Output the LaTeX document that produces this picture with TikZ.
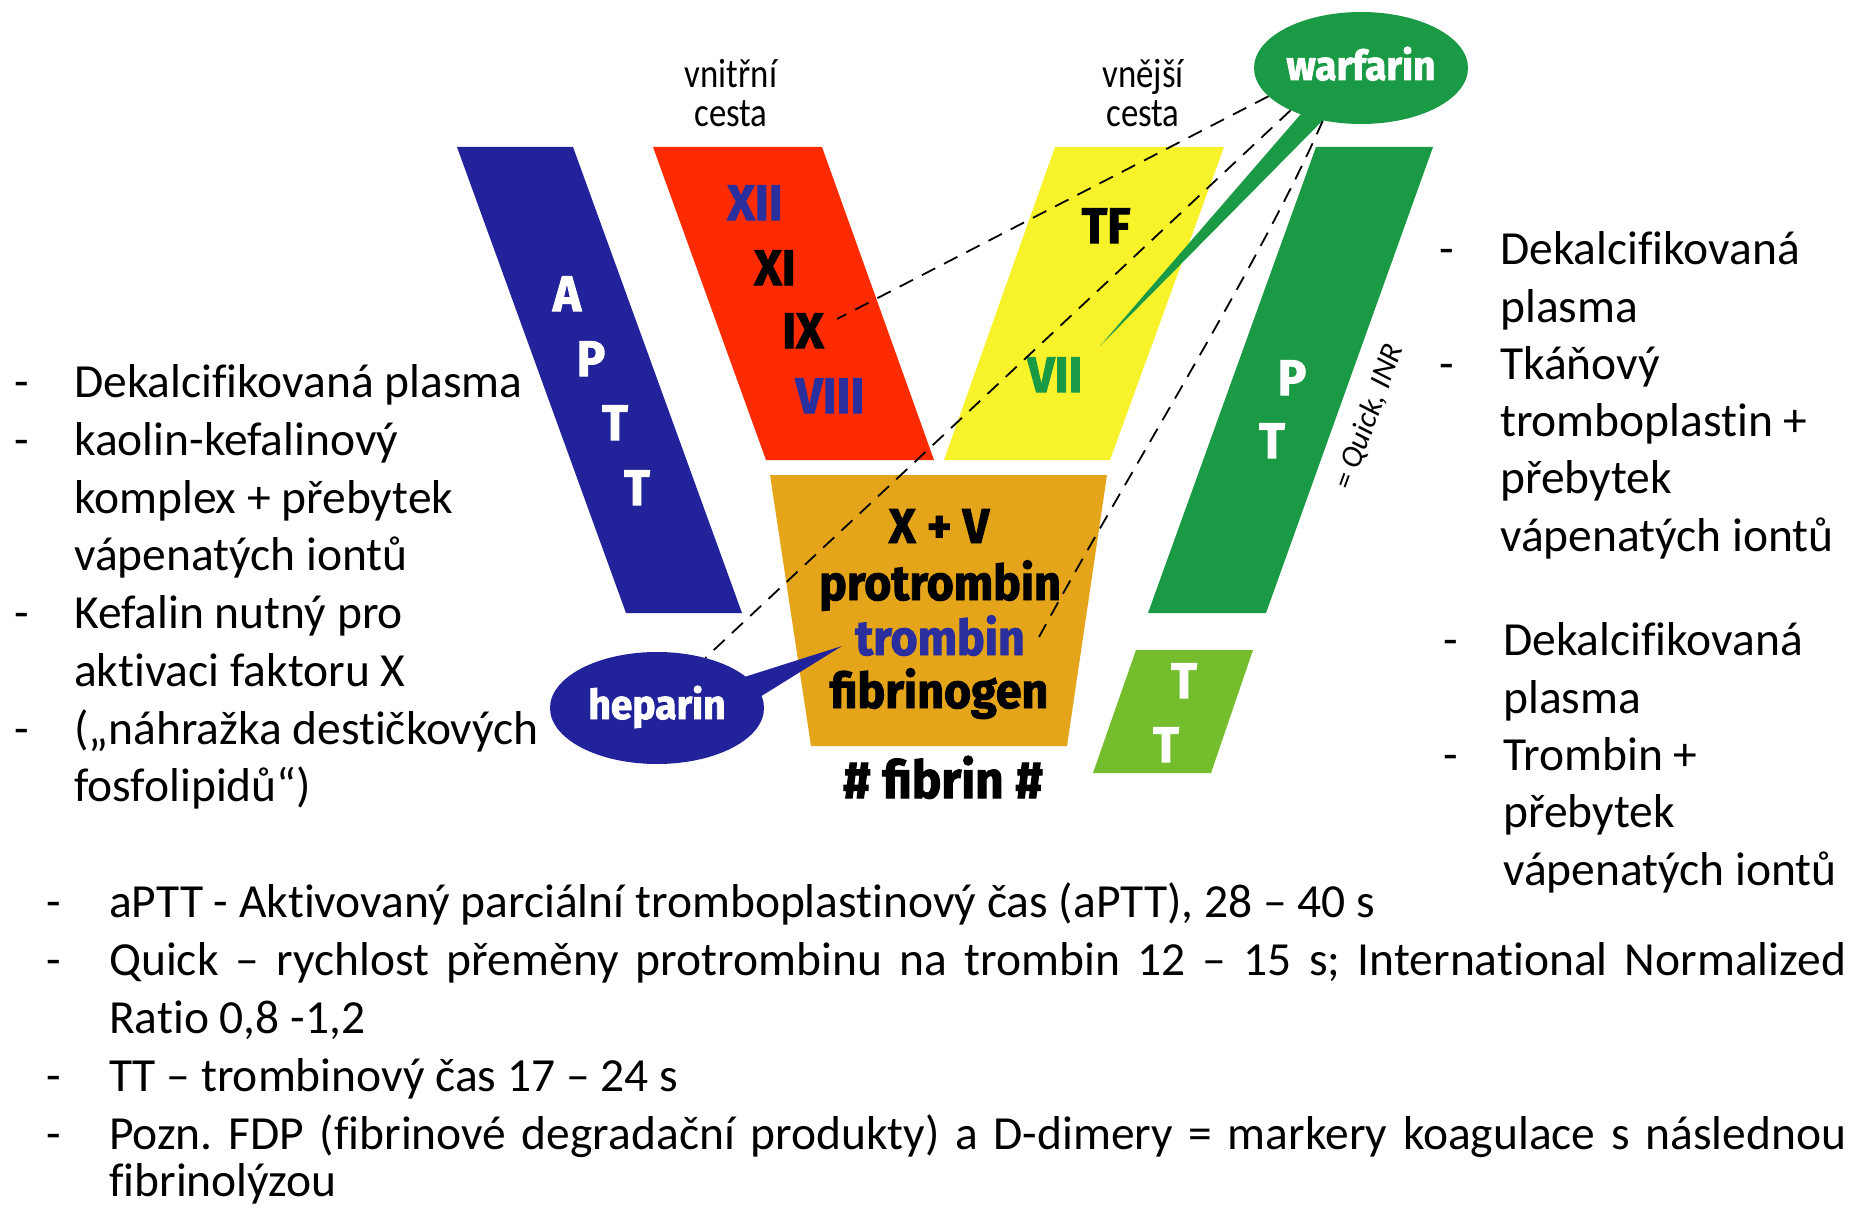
\documentclass[tikz,border=0pt]{standalone}
\usepackage{fontspec}
\setmainfont{Carlito}[Ligatures=NoCommon]
\newfontfamily\cond[FakeStretch=0.95,FakeBold=2]{Fira Sans}
\newfontfamily\narrowf[FakeStretch=0.85]{Carlito}
\usetikzlibrary{shapes.geometric}
\definecolor{cBlue}{HTML}{22229A}
\definecolor{cRed}{HTML}{FF2B00}
\definecolor{cYellow}{HTML}{F8F22B}
\definecolor{cGreen}{HTML}{1B9A46}
\definecolor{cOrange}{HTML}{E5A51B}
\definecolor{cLGreen}{HTML}{74BE2E}
\definecolor{cTxtBlue}{HTML}{2B2F9E}
\frenchspacing
\tikzset{
  lbl/.style={font=\cond\bfseries\fontsize{50}{50}\selectfont, inner sep=0, anchor=base},
  wlbl/.style={lbl, text=white},
  mid/.style={font=\cond\bfseries\fontsize{49}{49}\selectfont, inner sep=0, anchor=base},
  bub/.style={font=\cond\bfseries\fontsize{41}{41}\selectfont, inner sep=0, anchor=base, text=white},
  path/.style={font=\narrowf\fontsize{41}{41}\selectfont, inner sep=0, anchor=base},
  body/.style={font=\fontsize{47.5}{58}\selectfont, inner sep=0, anchor=base west},
  dashln/.style={draw=black, line width=1.8pt, dash pattern=on 15pt off 10pt},
  bubble/.style={ellipse, inner sep=0, minimum width=214pt, minimum height=112pt}
}
\begin{document}
\begin{tikzpicture}[x=1pt,y=-1pt]
\useasboundingbox[fill=white] (0,0) rectangle (1852,1209);
% bars
\fill[cBlue] (457,147) -- (573,147) -- (742,613) -- (626,613) -- cycle;
\fill[cRed] (653,147) -- (822,147) -- (934,460) -- (766,460) -- cycle;
\fill[cYellow] (1055,147) -- (1224,147) -- (1110,460) -- (944,460) -- cycle;
\fill[cGreen] (1316,147) -- (1433,147) -- (1266,613) -- (1148,613) -- cycle;
\fill[cOrange] (770,475) -- (1107,475) -- (1067,746) -- (811,746) -- cycle;
\fill[cLGreen] (1136,650) -- (1253,650) -- (1211,773) -- (1093,773) -- cycle;
% bubbles
\node[bubble, fill=cGreen] (warf) at (1361,68) {};
\node[bubble, fill=cBlue] (hep) at (657,708) {};
% labels
\node[wlbl] (a1) at (567,311) {A};
\node[wlbl] (a2) at (591,376) {P};
\node[wlbl] (a3) at (615,440) {T};
\node[wlbl] (a4) at (637,505) {T};
\node[lbl, text=cTxtBlue] (f12) at (755,220) {XII};
\node[lbl] (f11) at (775,285) {XI};
\node[lbl] (f9) at (803,348) {IX};
\node[lbl, text=cTxtBlue] (f8) at (830,413) {VIII};
\node[lbl] (tf) at (1106,243) {TF};
\node[lbl, text=cGreen] (f7) at (1055,392) {VII};
\node[wlbl] (p1) at (1292,395) {P};
\node[wlbl] (p2) at (1272,458) {T};
\node[wlbl] (t1) at (1184,698) {T};
\node[wlbl] (t2) at (1166,762) {T};
\node[mid] (xv) at (939,543) {X + V};
\node[mid] (prot) at (940,600) {protrombin};
\node[mid, text=cTxtBlue] (trom) at (940,655) {trombin};
\node[mid] (fibg) at (939,708) {fibrinogen};
\node[mid, font=\cond\bfseries\fontsize{52}{52}\selectfont] (fibr) at (943,798) {\# fibrin \#};
\node[path] (vn) at (731,88) {vnitřní};
\node[path] (vn2) at (731,127) {cesta};
\node[path] (ve) at (1143,88) {vnější};
\node[path] (ve2) at (1143,127) {cesta};
\node[font=\itshape\fontsize{31}{31}\selectfont, inner sep=0, rotate=70] (qi) at (1369,417) {= Quick, INR};
% connectors
\coordinate (aEnd) at (837,319);
\coordinate (cEnd) at (1039,637);
\draw[dashln] (warf.197) -- (aEnd);
\draw[dashln] (warf.211) -- (hep.46);
\draw[dashln] (warf.234) .. controls (1262,260) and (1130,470) .. (cEnd);
% tails
\fill[cGreen] (1313,100) -- (1100,346) -- (1335,108) -- cycle;
\fill[cBlue] (735,680) -- (842,646) -- (755,700) -- cycle;
\node[bub] (wt) at (1361,80) {warfarin};
\node[bub] (ht) at (657,719) {heparin};
% left text
\node[body] (ld1) at (14,397) {-};
\node[body] (ld2) at (14,455) {-};
\node[body] (ld3) at (14,628) {-};
\node[body] (ld4) at (14,744) {-};
\node[body] (l1) at (74,397) {Dekalcifikovaná plasma};
\node[body] (l2) at (74,455) {kaolin-kefalinový};
\node[body] (l3) at (74,513) {komplex + přebytek};
\node[body] (l4) at (74,570) {vápenatých iontů};
\node[body] (l5) at (74,628) {Kefalin nutný pro};
\node[body] (l6) at (74,686) {aktivaci faktoru X};
\node[body] (l7) at (74,744) {(„náhražka destičkových};
\node[body] (l8) at (74,801) {fosfolipidů“)};
% right top text
\node[body] (rd1) at (1439,264) {-};
\node[body] (rd2) at (1439,379) {-};
\node[body] (r1) at (1500,264) {Dekalcifikovaná};
\node[body] (r2) at (1500,322) {plasma};
\node[body] (r3) at (1500,379) {Tkáňový};
\node[body] (r4) at (1500,436) {tromboplastin +};
\node[body] (r5) at (1500,493) {přebytek};
\node[body] (r6) at (1500,551) {vápenatých iontů};
% right bottom text
\node[body] (sd1) at (1443,655) {-};
\node[body] (sd2) at (1443,770) {-};
\node[body] (s1) at (1503,655) {Dekalcifikovaná};
\node[body] (s2) at (1503,713) {plasma};
\node[body] (s3) at (1503,770) {Trombin +};
\node[body] (s4) at (1503,827) {přebytek};
\node[body] (s5) at (1503,885) {vápenatých iontů};
% bottom text
\node[body] (bd1) at (46,917) {-};
\node[body] (bd2) at (46,975) {-};
\node[body] (bd3) at (46,1091) {-};
\node[body] (bd4) at (46,1149) {-};
\node[body] (b1) at (109,917) {aPTT - Aktivovaný parciální tromboplastinový čas (aPTT), 28 – 40 s};
\node[body] (b2) at (109,975) {\makebox[1737pt][s]{Quick – rychlost přeměny protrombinu na trombin 12 – 15 s; International Normalized}};
\node[body] (b3) at (109,1033) {Ratio 0,8 -1,2};
\node[body] (b4) at (109,1091) {TT – trombinový čas 17 – 24 s};
\node[body] (b5) at (109,1149) {\makebox[1737pt][s]{Pozn. FDP (fibrinové degradační produkty) a D-dimery = markery koagulace s následnou}};
\node[body] (b6) at (109,1196) {fibrinolýzou};
\end{tikzpicture}
\end{document}
